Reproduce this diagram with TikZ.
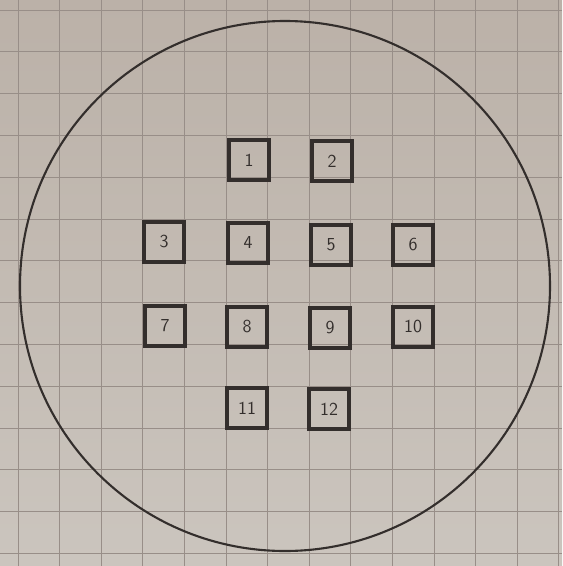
\documentclass[tikz,border=0pt]{standalone}
\usetikzlibrary{positioning}
\definecolor{paperA}{HTML}{BBB1A8}
\definecolor{paperB}{HTML}{CBC5BE}
\definecolor{gridln}{HTML}{988E88}
\definecolor{pencil}{HTML}{332E2C}
\tikzset{
  gridline/.style={draw=gridln, line width=0.7pt},
  wafer/.style={draw=pencil, line width=1.5pt},
  die/.style={rectangle, draw=pencil, line width=2.2pt, minimum size=1.0cm,
              inner sep=0pt, text=pencil, font=\sffamily\fontsize{13}{15}\selectfont},
}

\begin{document}
\begin{tikzpicture}[x=0.025cm, y=-0.025cm]
  \useasboundingbox (0,0) rectangle (562,566);
  \shade[top color=paperA, bottom color=paperB] (0,0) rectangle (562,566);

  % squared paper
  \foreach \k in {0,...,13} {
    \draw[gridline] ({18+41.6*\k},0) -- ({18+41.6*\k},566);
    \draw[gridline] (0,{10+41.8*\k}) -- (562,{10+41.8*\k});
  }

  \draw[wafer] (285,286) circle (265);

  \node[die] (die1) at (249,160) {1};
  \node[die] (die2) at (332,161) {2};
  \node[die] (die3) at (164,242) {3};
  \node[die] (die4) at (248,243) {4};
  \node[die] (die5) at (331,245) {5};
  \node[die] (die6) at (413,245) {6};
  \node[die] (die7) at (165,326) {7};
  \node[die] (die8) at (247,327) {8};
  \node[die] (die9) at (330,328) {9};
  \node[die] (die10) at (413,327) {10};
  \node[die] (die11) at (247,408) {11};
  \node[die] (die12) at (329,409) {12};
\end{tikzpicture}
\end{document}
